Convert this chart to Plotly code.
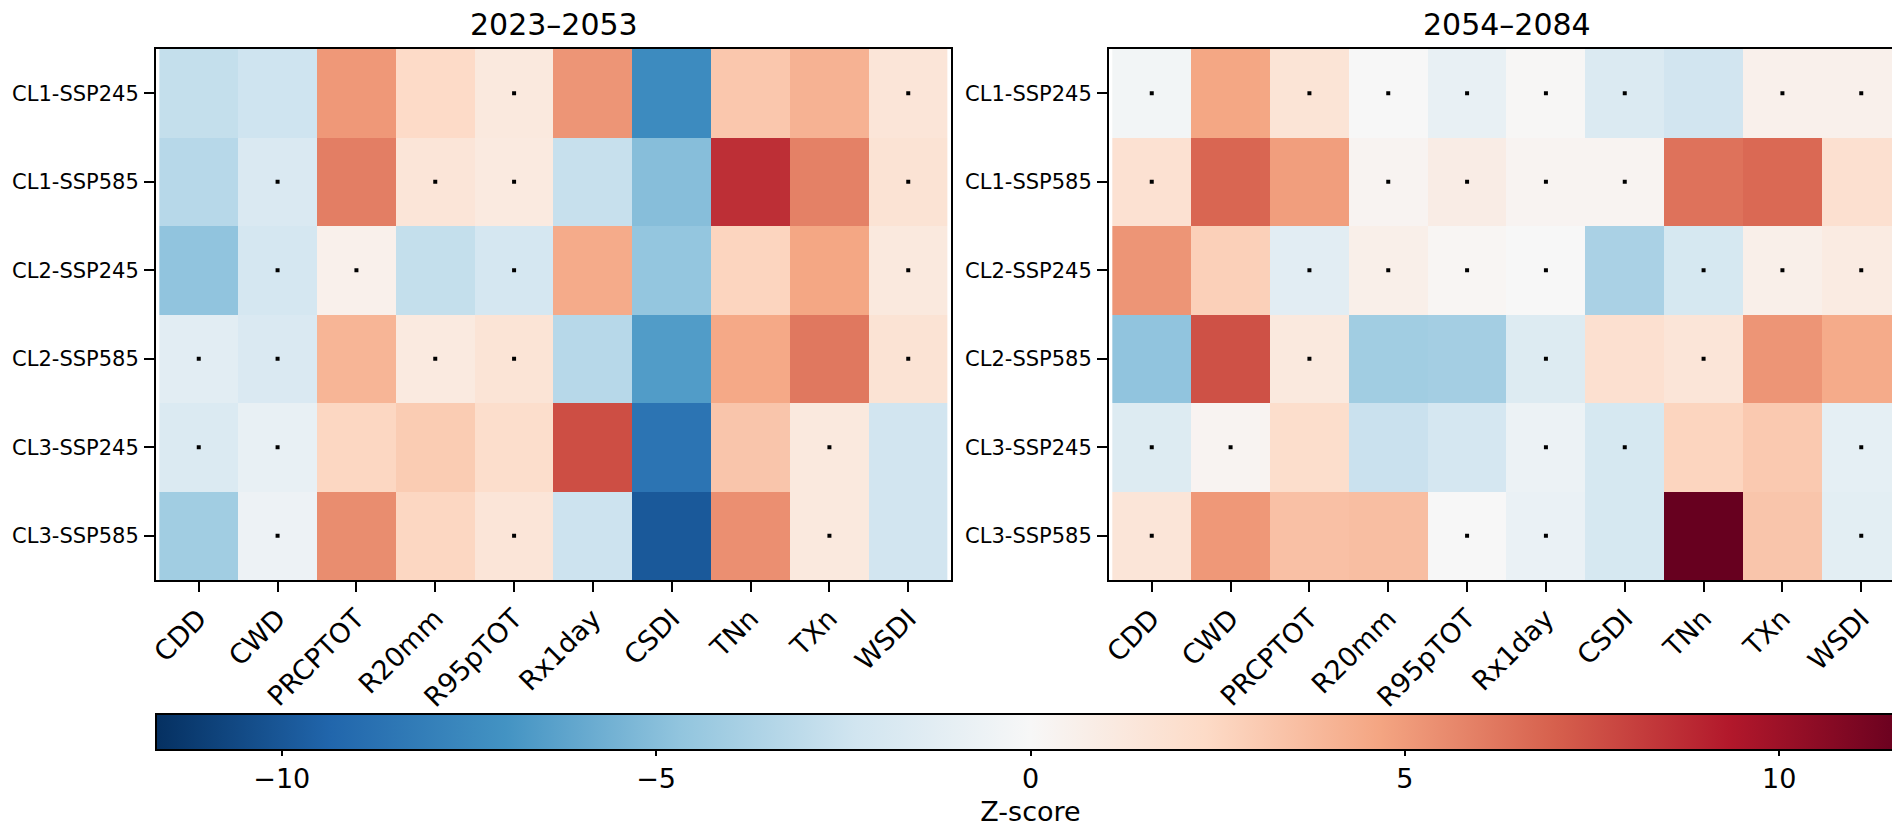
import plotly.graph_objects as go

indices = ["CDD", "CWD", "PRCPTOT", "R20mm", "R95pTOT", "Rx1day", "CSDI", "TNn", "TXn", "WSDI"]
scenarios = ["CL1-SSP245", "CL1-SSP585", "CL2-SSP245", "CL2-SSP585", "CL3-SSP245", "CL3-SSP585"]
titles = ["2023–2053", "2054–2084"]

# Z-scores, 2023–2053
z_p1_cl1_245 = [-2.8, -2.4, 5.1, 2.3, 1.2, 5.2, -7.4, 3.2, 4.1, 1.5]
z_p1_cl1_585 = [-3.3, -1.8, 6.0, 1.5, 1.1, -2.7, -5.0, 8.6, 5.9, 1.7]
z_p1_cl2_245 = [-4.7, -2.1, 0.6, -2.8, -2.1, 4.4, -4.6, 2.6, 4.6, 1.2]
z_p1_cl2_585 = [-1.3, -1.8, 4.0, 1.1, 1.6, -3.3, -6.6, 4.5, 6.2, 1.7]
z_p1_cl3_245 = [-1.7, -0.9, 2.5, 3.0, 2.1, 7.6, -8.6, 3.3, 1.2, -2.3]
z_p1_cl3_585 = [-4.1, -0.6, 5.5, 2.5, 1.5, -2.5, -9.9, 5.4, 1.2, -2.3]

# Z-scores, 2054–2084
z_p2_cl1_245 = [-0.3, 4.6, 1.6, 0.0, -0.9, 0.1, -1.7, -2.3, 0.6, 0.6]
z_p2_cl1_585 = [1.8, 6.8, 4.9, 0.3, 0.9, 0.3, 0.3, 6.4, 6.7, 1.9]
z_p2_cl2_245 = [5.2, 2.8, -1.3, 0.7, 0.2, 0.0, -3.8, -2.0, 0.7, 1.0]
z_p2_cl2_585 = [-4.7, 7.5, 1.2, -4.1, -4.0, -1.6, 1.9, 1.5, 5.2, 4.4]
z_p2_cl3_245 = [-1.6, 0.3, 2.1, -2.6, -2.1, -0.7, -2.0, 2.6, 3.1, -1.1]
z_p2_cl3_585 = [1.5, 5.1, 3.5, 3.6, 0.0, -0.8, -2.0, 11.68, 3.3, -1.2]

# non-significant markers (1 = dot)
ns_p1_cl1_245 = [0, 0, 0, 0, 1, 0, 0, 0, 0, 1]
ns_p1_cl1_585 = [0, 1, 0, 1, 1, 0, 0, 0, 0, 1]
ns_p1_cl2_245 = [0, 1, 1, 0, 1, 0, 0, 0, 0, 1]
ns_p1_cl2_585 = [1, 1, 0, 1, 1, 0, 0, 0, 0, 1]
ns_p1_cl3_245 = [1, 1, 0, 0, 0, 0, 0, 0, 1, 0]
ns_p1_cl3_585 = [0, 1, 0, 0, 1, 0, 0, 0, 1, 0]

ns_p2_cl1_245 = [1, 0, 1, 1, 1, 1, 1, 0, 1, 1]
ns_p2_cl1_585 = [1, 0, 0, 1, 1, 1, 1, 0, 0, 0]
ns_p2_cl2_245 = [0, 0, 1, 1, 1, 1, 0, 1, 1, 1]
ns_p2_cl2_585 = [0, 0, 1, 0, 0, 1, 0, 1, 0, 0]
ns_p2_cl3_245 = [1, 1, 0, 0, 0, 1, 1, 0, 0, 1]
ns_p2_cl3_585 = [1, 0, 0, 0, 1, 1, 0, 0, 0, 1]

zlim = 11.68
colorbar_ticks = [-10, -5, 0, 5, 10]

z_p1 = [z_p1_cl1_245, z_p1_cl1_585, z_p1_cl2_245, z_p1_cl2_585, z_p1_cl3_245, z_p1_cl3_585]
z_p2 = [z_p2_cl1_245, z_p2_cl1_585, z_p2_cl2_245, z_p2_cl2_585, z_p2_cl3_245, z_p2_cl3_585]
ns_p1 = [ns_p1_cl1_245, ns_p1_cl1_585, ns_p1_cl2_245, ns_p1_cl2_585, ns_p1_cl3_245, ns_p1_cl3_585]
ns_p2 = [ns_p2_cl1_245, ns_p2_cl1_585, ns_p2_cl2_245, ns_p2_cl2_585, ns_p2_cl3_245, ns_p2_cl3_585]

rdbu = ['rgb(5,48,97)', 'rgb(33,102,172)', 'rgb(67,147,195)', 'rgb(146,197,222)',
        'rgb(209,229,240)', 'rgb(247,247,247)', 'rgb(253,219,199)', 'rgb(244,165,130)',
        'rgb(214,96,77)', 'rgb(178,24,43)', 'rgb(103,0,31)']
colorscale = [[i / 10, c] for i, c in enumerate(rdbu)]

W, H = 1900, 832
FONT = "DejaVu Sans"

fig = go.Figure()

doms = [(148 / W, 943 / W), (1101 / W, 1896 / W)]
ydom = (1 - 572 / H, 1 - 41 / H)

for k, (z, ns) in enumerate([(z_p1, ns_p1), (z_p2, ns_p2)]):
    xa = "x" if k == 0 else "x2"
    ya = "y" if k == 0 else "y2"
    fig.add_trace(go.Heatmap(
        z=z, x=indices, y=scenarios, xaxis=xa, yaxis=ya,
        colorscale=colorscale, zmin=-zlim, zmax=zlim,
        showscale=(k == 0),
        colorbar=dict(
            orientation="h", x=(148 + 1897) / 2 / W, xanchor="center",
            len=1749 / W, lenmode="fraction",
            y=1 - 706 / H, yanchor="top", thickness=36,
            xpad=0, ypad=0, outlinewidth=2, outlinecolor="black",
            tickvals=colorbar_ticks,
            ticktext=[("−" + str(-v)) if v < 0 else str(v) for v in colorbar_ticks],
            ticks="outside", ticklen=5, tickwidth=1.5, tickcolor="black",
            tickfont=dict(family=FONT, size=27, color="black"),
            title=dict(text="Z-score", side="bottom",
                       font=dict(family=FONT, size=27, color="black")),
        ),
        hoverongaps=False,
    ))
    xs, ys = [], []
    for i, row in enumerate(ns):
        for j, v in enumerate(row):
            if v:
                xs.append(indices[j])
                ys.append(scenarios[i])
    fig.add_trace(go.Scatter(
        x=xs, y=ys, xaxis=xa, yaxis=ya, mode="markers",
        marker=dict(symbol="square", size=4, color="black"),
        showlegend=False, hoverinfo="skip",
    ))

axis_common = dict(
    showline=True, linecolor="black", linewidth=2, mirror=True,
    ticks="outside", ticklen=10, tickwidth=2, tickcolor="black",
    showgrid=False, zeroline=False,
)

fig.update_layout(
    width=W, height=H,
    margin=dict(l=0, r=0, t=0, b=0, pad=0),
    template="none",
    paper_bgcolor="white", plot_bgcolor="white",
    showlegend=False,
    font=dict(family=FONT, color="black"),
    xaxis=dict(domain=doms[0], anchor="y", tickangle=-45,
               tickfont=dict(family=FONT, size=27, color="black"), **axis_common),
    yaxis=dict(domain=ydom, anchor="x", autorange="reversed", ticklabelstandoff=1,
               tickfont=dict(family=FONT, size=21, color="black"), **axis_common),
    xaxis2=dict(domain=doms[1], anchor="y2", tickangle=-45,
                tickfont=dict(family=FONT, size=27, color="black"), **axis_common),
    yaxis2=dict(domain=ydom, anchor="x2", autorange="reversed", ticklabelstandoff=1,
                tickfont=dict(family=FONT, size=21, color="black"), **axis_common),
    annotations=[
        dict(text=titles[k], x=(doms[k][0] + doms[k][1]) / 2, y=1 - 16 / H,
             xref="paper", yref="paper", showarrow=False,
             xanchor="center", yanchor="middle",
             font=dict(family=FONT, size=30, color="black"))
        for k in range(2)
    ],
)

fig.write_html("out.html")
